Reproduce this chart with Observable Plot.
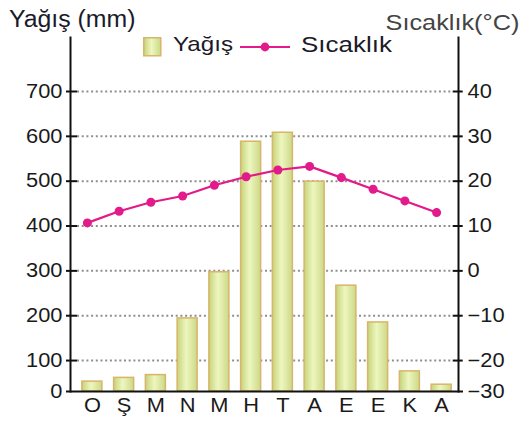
<!DOCTYPE html>
<html><head><meta charset="utf-8">
<script src="https://cdn.jsdelivr.net/npm/d3@7"></script>
<script src="https://cdn.jsdelivr.net/npm/@observablehq/plot@0.6"></script>
<style>
body{margin:0;background:#fff;font-family:"Liberation Sans",Arial,sans-serif;}
#wrap{position:relative;width:522px;height:421px;overflow:hidden;}
#chart{position:absolute;left:0;top:0;}
.lbl{position:absolute;line-height:1;white-space:nowrap;transform-origin:left top;}
</style></head><body>
<div id="wrap">
  <div id="chart"></div>
  <div class="lbl" id="titleLeft" style="left:9px;top:7.5px;font-size:23px;color:#1a1a2a;transform:scaleX(1.08)"></div>
  <div class="lbl" id="titleRight" style="right:3px;top:12.4px;font-size:22px;color:#444;transform:scaleX(1.15);transform-origin:right top"></div>
  <svg id="swatch" style="position:absolute;left:143px;top:37px" width="19" height="20">
    <defs><linearGradient id="legGrad" x1="0" x2="1" y1="0" y2="0">
      <stop offset="0" stop-color="#c5d47a"/><stop offset="0.45" stop-color="#eef6bf"/><stop offset="1" stop-color="#cbd986"/>
    </linearGradient></defs>
    <rect x="0.75" y="0.75" width="17" height="18" fill="url(#legGrad)" stroke="#d9b46b" stroke-width="1.5"/>
  </svg>
  <div class="lbl" id="leg1" style="left:173px;top:33px;font-size:21px;color:#1a1a2a;transform:scaleX(1.15)"></div>
  <svg id="legLine" style="position:absolute;left:240px;top:41px" width="50" height="12">
    <line x1="0" x2="50" y1="6" y2="6" stroke="#e21a8a" stroke-width="2"/>
    <circle cx="25" cy="6" r="4.4" fill="#e21a8a"/>
  </svg>
  <div class="lbl" id="leg2" style="left:301px;top:34px;font-size:22px;color:#1a1a2a;transform:scaleX(1.18)"></div>
</div>
<script>
const months = ["Ocak","Şubat","Mart","Nisan","Mayıs","Haziran","Temmuz","Ağustos","Eylül","Ekim","Kasım","Aralık"];
const monthLabels = ["O","Ş","M","N","M","H","T","A","E","E","K","A"];
const rainfall = [32, 44, 53, 194, 297, 588, 608, 499, 267, 185, 65, 22];
const temperature = [10.7, 13.3, 15.3, 16.7, 19.1, 21.0, 22.5, 23.3, 20.8, 18.2, 15.6, 13.0];
const rainTicks = [0, 100, 200, 300, 400, 500, 600, 700];
const tempTicks = [-30, -20, -10, 0, 10, 20, 30, 40];
const seriesNames = ["Yağış", "Sıcaklık"];
const axisTitles = ["Yağış (mm)", "Sıcaklık(°C)"];

document.getElementById("titleLeft").textContent = axisTitles[0];
document.getElementById("titleRight").textContent = axisTitles[1];
document.getElementById("leg1").textContent = seriesNames[0];
document.getElementById("leg2").textContent = seriesNames[1];

// temperature axis is aligned to the rainfall axis tick for tick
const toRain = t => rainTicks[0] + (t - tempTicks[0]) * (rainTicks[rainTicks.length-1] - rainTicks[0]) / (tempTicks[tempTicks.length-1] - tempTicks[0]);
// the original axis draws its first interval (0–100) shorter than the others
const axisMap = d3.scaleLinear().domain([0, 100, 700]).range([0, 0.69, 6.69]);
const data = months.map((m, i) => ({month: m, rain: rainfall[i], temp: temperature[i]}));
const fmtRain = v => String(Math.round(axisMap.invert(v)));
const fmtTemp = v => { const r = axisMap.invert(v); const t = Math.round((r - rainTicks[0]) / 10 + tempTicks[0]); return t < 0 ? "\u2212" + Math.abs(t) : String(t); };
const mColor = "#e21a8a";
const axisColor = "#111";
const yRain = d => axisMap(d.rain);
const yTemp = d => axisMap(toRain(d.temp));

const plot = Plot.plot({
  width: 522, height: 421,
  marginLeft: 70, marginRight: 64, marginTop: 37, marginBottom: 30,
  style: {fontFamily: '"Liberation Sans", Arial, sans-serif', fontSize: "19.5px", color: "#1a1a1a", background: "transparent", overflow: "visible"},
  x: {domain: months, range: [76, 457], paddingInner: 0.37, paddingOuter: 0.185, round: false, axis: null, label: null},
  y: {domain: [axisMap(0), axisMap(700)], range: [391, 91], axis: null, label: null},
  marks: [
    Plot.ruleY(rainTicks.slice(1).map(axisMap), {stroke: "#8e8e8e", strokeWidth: 2, strokeDasharray: "2,2.7", insetLeft: 7, insetRight: 6}),
    Plot.barY(data, {x: "month", y: yRain, fill: "url(#barGrad)", stroke: "#d9b46b", strokeWidth: 1.5}),
    Plot.line(data, {x: "month", y: yTemp, stroke: mColor, strokeWidth: 2.2, dx: -5}),
    Plot.dot(data, {x: "month", y: yTemp, r: 4.5, fill: mColor, stroke: "none", dx: -5}),
    Plot.frame({anchor: "left", stroke: axisColor, strokeWidth: 2}),
    Plot.frame({anchor: "right", stroke: axisColor, strokeWidth: 2}),
    Plot.ruleY([axisMap(rainTicks[0])], {stroke: axisColor, strokeWidth: 2, insetLeft: -4, insetRight: -5}),
    Plot.ruleY(rainTicks.slice(1).map(axisMap), {stroke: axisColor, strokeWidth: 2, insetLeft: -4, insetRight: 381}),
    Plot.ruleY(rainTicks.slice(1).map(axisMap), {stroke: axisColor, strokeWidth: 2, insetLeft: 382.7, insetRight: -4.7}),
    Plot.axisY(rainTicks.map(axisMap), {anchor: "left", tickSize: 0, tickPadding: 8, fontSize: 19.5, label: null, tickFormat: fmtRain}),
    Plot.axisY(tempTicks.map(toRain).map(axisMap), {anchor: "right", tickSize: 0, tickPadding: 9, fontSize: 19.5, label: null, tickFormat: fmtTemp}),
    Plot.axisX({tickSize: 0, tickPadding: 6, fontSize: 21, label: null, tickFormat: m => monthLabels[months.indexOf(m)]})
  ]
});

const svg = d3.select(plot);
svg.insert("defs", ":first-child").html(
  '<linearGradient id="barGrad" x1="0" x2="1" y1="0" y2="0">' +
  '<stop offset="0" stop-color="#c5d47a"/><stop offset="0.45" stop-color="#eef6bf"/><stop offset="1" stop-color="#cbd986"/></linearGradient>');
svg.selectAll('g[aria-label="y-axis tick label"] text').attr("transform", function() { return (this.getAttribute("transform") || "") + " scale(1.12,1)"; });
svg.selectAll('g[aria-label="x-axis tick label"] text').attr("transform", function() { return (this.getAttribute("transform") || "") + " scale(1.04,1)"; });
document.getElementById("chart").appendChild(plot);
</script>
</body></html>
